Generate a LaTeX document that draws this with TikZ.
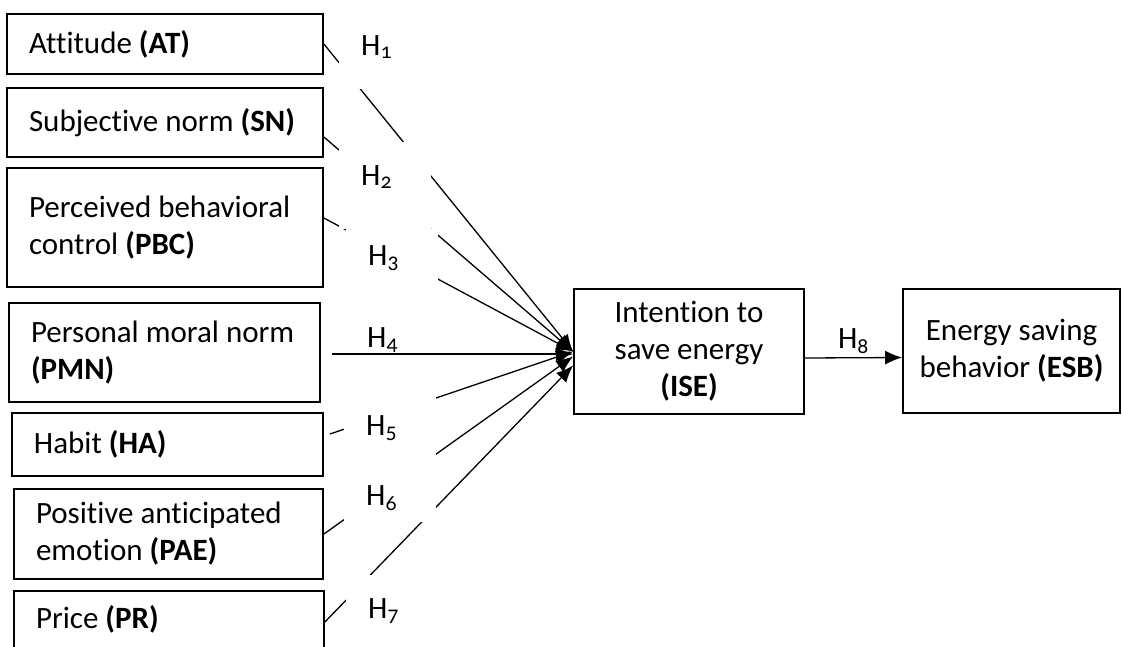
\documentclass[tikz,border=0pt]{standalone}
\usepackage{fontspec}
\setmainfont{Carlito}[Ligatures=NoCommon]
\newfontfamily\hypfont{Carlito}[Numbers=OldStyle]
\usepackage{tikz}
\usetikzlibrary{arrows.meta}

\begin{document}
\begin{tikzpicture}[
  x=1pt, y=-1pt,
  box/.style={draw, line width=1.8pt, align=flush left, inner xsep=22pt, inner ysep=0pt, font=\fontsize{31}{37}\selectfont},
  mid/.style={draw, line width=1.8pt, align=center, inner sep=0pt, font=\fontsize{31}{37}\selectfont},
  hyp/.style={fill=white, anchor=base west, inner xsep=22pt, inner ysep=0pt, text width=48pt, align=flush left, font=\fontsize{31}{37}\hypfont},
  arr/.style={-{Latex[length=17pt, width=14pt]}, line width=1.3pt}
]
\useasboundingbox (0,0) rectangle (1122,646);
\clip (0,0) rectangle (1122,646);

\node[box, text width=272pt, minimum height=60pt] (at) at (165,44) {Attitude \textbf{(AT)}};
\node[box, text width=272pt, minimum height=69pt] (sn) at (165,122.5) {Subjective norm \textbf{(SN)}};
\node[box, text width=272pt, minimum height=119pt] (pbc) at (165,227.5) {Perceived behavioral\\control \textbf{(PBC)}};
\node[box, text width=267pt, minimum height=99pt] (pmn) at (164.5,352.5) {Personal moral norm\\\textbf{(PMN)}};
\node[box, text width=267pt, minimum height=63pt] (ha) at (167.5,444.5) {Habit \textbf{(HA)}};
\node[box, text width=265pt, minimum height=90pt] (pae) at (168.5,534) {Positive anticipated\\emotion \textbf{(PAE)}};
\node[box, text width=266pt, minimum height=57pt] (pr) at (169,619.5) {Price \textbf{(PR)}};

\node[mid, minimum width=230pt, minimum height=125pt] (ise) at (689,351.5) {Intention to\\save energy\\\textbf{(ISE)}};
\node[mid, minimum width=217pt, minimum height=124pt] (esb) at (1011.5,351) {Energy saving\\behavior \textbf{(ESB)}};

\draw[arr] (at.east) -- (ise.west);
\draw[arr] ([yshift=-14.5pt]sn.east) -- (ise.west);
\draw[arr] ([yshift=9.5pt]pbc.east) -- (ise.west);
\draw[arr] ([xshift=11pt,yshift=-1.5pt]pmn.east) -- ([yshift=-2.5pt]ise.west);
\draw[arr] ([xshift=6pt,yshift=10.5pt]ha.east) -- (ise.west);
\draw[arr] (pae.east) -- ([yshift=-5pt]ise.west);
\draw[arr] ([yshift=-2.5pt]pr.east) -- ([yshift=-14pt]ise.west);
\draw[arr] ([yshift=-6.5pt]ise.east) -- node[above=3pt, inner sep=0pt, font=\fontsize{31}{37}\hypfont] (h8) {H\textsubscript{8}} ([yshift=-6.5pt]esb.west);

\node[hyp, text height=37pt, text depth=34pt] (h1) at (339,55) {H\textsubscript{1}};
\node[hyp, text height=43pt, text depth=44pt] (h2) at (339,185) {H\textsubscript{2}};
\node[hyp, text height=36pt, text depth=35pt] (h3) at (346,265) {H\textsubscript{3}};
\node[hyp, text height=35pt, text depth=4pt] (h4) at (345,347) {H\textsubscript{4}};
\node[hyp, text height=39pt, text depth=27pt] (h5) at (344,435) {H\textsubscript{5}};
\node[hyp, text height=43pt, text depth=17pt] (h6) at (344,505) {H\textsubscript{6}};
\node[hyp, text height=43pt, text depth=40pt] (h7) at (346,618) {H\textsubscript{7}};
\end{tikzpicture}
\end{document}
